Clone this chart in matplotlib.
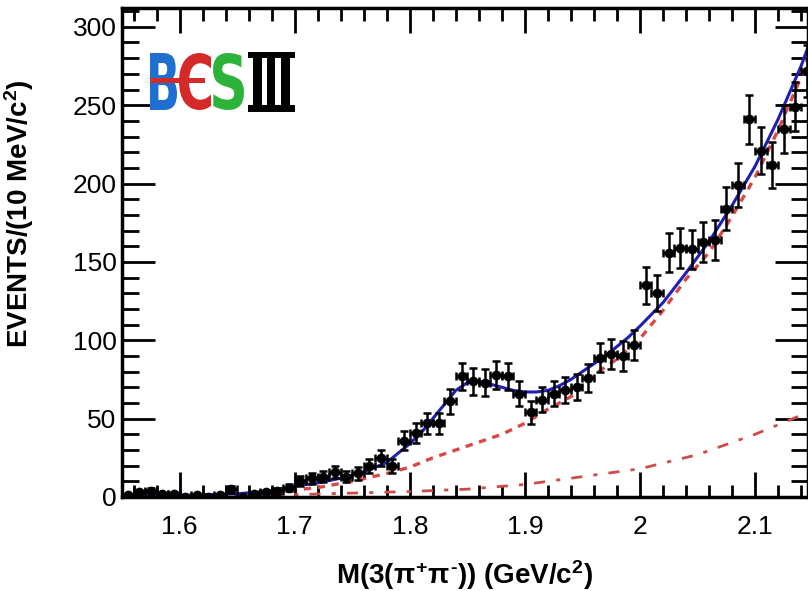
import numpy as np
import matplotlib
matplotlib.use("Agg")
import matplotlib.pyplot as plt
from matplotlib.patches import Rectangle, PathPatch
from matplotlib.textpath import TextPath
from matplotlib.font_manager import FontProperties
from matplotlib.transforms import Affine2D, IdentityTransform
from matplotlib.ticker import MultipleLocator

# ---------------- data ----------------
bin_centers = np.round(np.arange(1.555, 2.146, 0.01), 3)   # 10 MeV bins
counts = [1, 3, 4, 2, 2, 0, 1, 0, 1, 5,
          0, 2, 3, 4, 6, 10, 12, 13, 16, 13,
          15, 20, 25, 20, 36, 41, 47, 47, 61, 77,
          74, 73, 78, 77, 66, 54, 62, 66, 68, 70,
          76, 89, 91, 90, 97, 135, 130, 156, 159, 158,
          163, 164, 184, 199, 241, 221, 212, 235, 249, 272]

fit_x = [1.55, 1.60, 1.65, 1.68, 1.70, 1.72, 1.74, 1.76, 1.77, 1.78, 1.79, 1.80,
         1.81, 1.82, 1.83, 1.84, 1.85, 1.86, 1.87, 1.88, 1.89, 1.90, 1.91, 1.92,
         1.93, 1.94, 1.95, 1.96, 1.97, 1.98, 1.99, 2.00, 2.02, 2.04, 2.06, 2.08,
         2.10, 2.12, 2.14, 2.146]
fit_total = [0.5, 1, 2, 4, 7, 9, 12, 16, 19, 22, 28, 34,
             41, 50, 59, 68, 73, 74, 72, 70, 68, 67, 67, 68,
             71, 75, 80, 85, 90, 96, 102, 109, 124, 143, 163, 186,
             211, 241, 275, 287]

bkg_x = [1.55, 1.60, 1.65, 1.70, 1.72, 1.75, 1.78, 1.80, 1.82, 1.84, 1.86, 1.88,
         1.90, 1.92, 1.94, 1.96, 1.98, 2.00, 2.02, 2.04, 2.06, 2.08, 2.10, 2.12,
         2.14, 2.146]
bkg_total = [0.2, 0.8, 2, 4.5, 6, 10, 15, 19, 25, 30, 35, 40,
             47, 56, 64, 78, 88, 101, 119, 139, 156, 179, 204, 234,
             268, 280]

bkg2_x = [1.55, 1.60, 1.65, 1.70, 1.75, 1.80, 1.85, 1.90, 1.95, 2.00, 2.05, 2.10, 2.146]
bkg2 = [0, 0.3, 0.8, 1.5, 2.5, 3.5, 5, 8, 13, 18, 27, 40, 54]

xticks = [1.6, 1.7, 1.8, 1.9, 2.0, 2.1]
xtick_labels = ["1.6", "1.7", "1.8", "1.9", "2", "2.1"]
yticks = [0, 50, 100, 150, 200, 250, 300]
ytick_labels = ["0", "50", "100", "150", "200", "250", "300"]

# ---------------- style ----------------
plt.rcParams['font.family'] = ['Liberation Sans', 'DejaVu Sans']
plt.rcParams['mathtext.fontset'] = 'custom'
plt.rcParams['mathtext.rm'] = 'Liberation Sans:bold'
plt.rcParams['mathtext.it'] = 'Liberation Sans:bold'
plt.rcParams['mathtext.bf'] = 'Liberation Sans:bold'

W, H = 808, 591
fig = plt.figure(figsize=(W / 100, H / 100), dpi=100)
ax = fig.add_axes([122 / W, 1 - 497 / H, (808 - 122) / W, (497 - 8) / H])

counts_arr = np.array(counts, dtype=float)
yerr = np.sqrt(counts_arr)

ax.plot(bkg2_x, bkg2, color='#cc4b4b', lw=2.0, dashes=(4, 4, 1.5, 4))
ax.plot(bkg_x, bkg_total, color='#d94848', lw=2.4, dashes=(2.2, 2.0))
ax.plot(fit_x, fit_total, color='#1f1fb4', lw=2.2)
ax.errorbar(bin_centers, counts_arr, yerr=yerr, xerr=0.005, fmt='o', color='black',
            ms=6, mec='black', mfc='black', elinewidth=1.8, capsize=3, capthick=1.8,
            clip_on=True, zorder=5)

ax.set_xlim(1.55, 2.146)
ax.set_ylim(0, 312)

ax.set_xticks(xticks)
ax.set_xticklabels(xtick_labels)
ax.set_yticks(yticks)
ax.set_yticklabels(ytick_labels)
ax.xaxis.set_minor_locator(MultipleLocator(0.02))
ax.yaxis.set_minor_locator(MultipleLocator(10))

ax.tick_params(axis='both', which='both', direction='in', top=True, right=True,
               width=2.0, colors='black')
ax.tick_params(axis='x', which='major', length=18, labelsize=19, pad=13)
ax.tick_params(axis='x', which='minor', length=9)
ax.tick_params(axis='y', which='major', length=24, labelsize=19, pad=4)
ax.tick_params(axis='y', which='minor', length=12)
for sp in ax.spines.values():
    sp.set_linewidth(2.5)

ax.set_xlabel(r"M(3($\pi^{+}\pi^{\text{-}}$)) (GeV/c$^{2}$)", fontsize=20, fontweight='bold')
ax.set_ylabel(r"EVENTS/(10 MeV/c$^{2}$)", fontsize=20, fontweight='bold')
ax.xaxis.set_label_coords(0.5, -0.125)
ax.yaxis.set_label_coords(-0.125, 0.58)

# ---------------- BESIII logo (pixel coordinates) ----------------
def glyph(ch, x0, ytop, w, h, color, family='DejaVu Sans'):
    tp = TextPath((0, 0), ch, size=100, prop=FontProperties(family=family, weight='bold'))
    bb = tp.get_extents()
    tr = (Affine2D().translate(-bb.x0, -bb.y0)
          .scale(w / bb.width, h / bb.height)
          .translate(x0, H - ytop - h))
    p = PathPatch(tr.transform_path(tp), facecolor=color, edgecolor='none',
                  transform=IdentityTransform())
    fig.add_artist(p)

def rect(x0, ytop, w, h, color):
    fig.add_artist(Rectangle((x0, H - ytop - h), w, h, facecolor=color,
                             edgecolor='none', transform=IdentityTransform()))

glyph('B', 150, 53, 27, 57, '#1f6fd0')
glyph('C', 179, 53, 32, 57, '#d42a2a')
rect(150, 78, 55, 5, '#d42a2a')
glyph('S', 213, 53, 31, 57, '#2db33a')
rect(248, 52, 47, 6, 'black')
rect(248, 105, 47, 7, 'black')
rect(253, 52, 9, 60, 'black')
rect(267, 52, 8, 60, 'black')
rect(281, 52, 9, 60, 'black')

fig.savefig("out.png", dpi=100)
